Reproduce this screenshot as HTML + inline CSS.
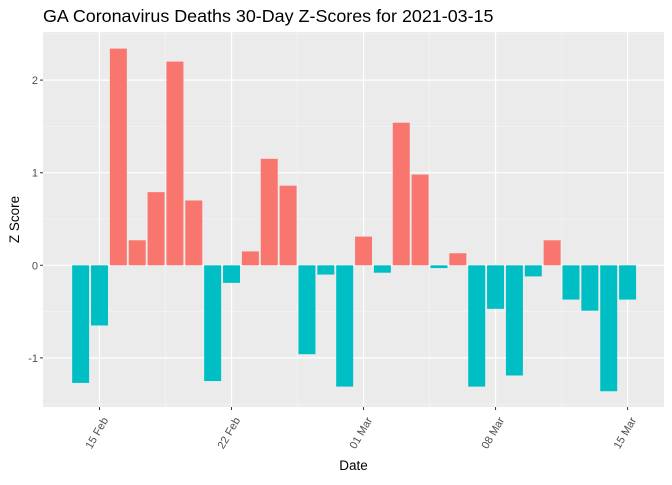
<!DOCTYPE html>
<html><head><meta charset="utf-8"><style>
body{margin:0;background:#fff;}
svg text{font-family:"Liberation Sans",Arial,sans-serif;}
</style></head><body>
<svg id="chart" width="672" height="480" xmlns="http://www.w3.org/2000/svg">
<text x="43" y="22" font-size="17.9" fill="#000">GA Coronavirus Deaths 30-Day Z-Scores for 2021-03-15</text>
<rect x="43" y="32" width="621" height="375" fill="#ebebeb"/>
<g id="grid"></g>
<g id="bars"></g>
<g id="axes"></g>
<text x="353.5" y="470" font-size="13.5" text-anchor="middle" fill="#000">Date</text>
<text transform="translate(19,219.5) rotate(-90)" font-size="13.5" text-anchor="middle" fill="#000">Z Score</text>
</svg>
<script>
const dates = ["02-14","02-15","02-16","02-17","02-18","02-19","02-20","02-21","02-22","02-23","02-24","02-25","02-26","02-27","02-28","03-01","03-02","03-03","03-04","03-05","03-06","03-07","03-08","03-09","03-10","03-11","03-12","03-13","03-14","03-15"];
const zScores = [-1.27,-0.65,2.34,0.27,0.79,2.20,0.70,-1.25,-0.19,0.15,1.15,0.86,-0.96,-0.10,-1.31,0.31,-0.08,1.54,0.98,-0.03,0.13,-1.31,-0.47,-1.19,-0.12,0.27,-0.37,-0.49,-1.36,-0.37];
const yTicks = [-1,0,1,2];
const xTickLabels = ["15 Feb","22 Feb","01 Mar","08 Mar","15 Mar"];
const xTickIdx = [1,8,15,22,29];

const NS="http://www.w3.org/2000/svg";
const dayW=18.86, x0=99.5-dayW;
const xs=i=>x0+i*dayW;
const yZero=265.3, yUnit=92.6;
const ys=v=>yZero-v*yUnit;
const L=43,R=664,T=32,B=407;
function mk(tag,parent){const e=document.createElementNS(NS,tag);document.getElementById(parent).appendChild(e);return e;}
for(let v=-1.5;v<=2.5;v+=1){const y=ys(v);if(y<T||y>B)continue;const l=mk('line','grid');


l.setAttribute('x1',L);l.setAttribute('x2',R);l.setAttribute('y1',y);l.setAttribute('y2',y);l.setAttribute('stroke','#f5f5f5');l.setAttribute('stroke-width','0.6');}
for(let k=-1;k<xTickIdx.length;k++){const x=xs(xTickIdx[0]+k*7+3.5);if(x<L||x>R)continue;const l=mk('line','grid');


l.setAttribute('x1',x);l.setAttribute('x2',x);l.setAttribute('y1',T);l.setAttribute('y2',B);l.setAttribute('stroke','#f5f5f5');l.setAttribute('stroke-width','0.6');}
yTicks.forEach(v=>{const y=ys(v);const l=mk('line','grid');


l.setAttribute('x1',L);l.setAttribute('x2',R);l.setAttribute('y1',y);l.setAttribute('y2',y);l.setAttribute('stroke','#fff');l.setAttribute('stroke-width','1.2');
const t=mk('line','axes');


t.setAttribute('x1',L-3);t.setAttribute('x2',L);t.setAttribute('y1',y);t.setAttribute('y2',y);t.setAttribute('stroke','#333');
const tx=mk('text','axes');


tx.setAttribute('x',L-5);tx.setAttribute('y',y+4);tx.setAttribute('text-anchor','end');tx.setAttribute('font-size','11');tx.setAttribute('fill','#4d4d4d');tx.textContent=v;});
xTickIdx.forEach((idx,k)=>{const x=xs(idx);const l=mk('line','grid');


l.setAttribute('x1',x);l.setAttribute('x2',x);l.setAttribute('y1',T);l.setAttribute('y2',B);l.setAttribute('stroke','#fff');l.setAttribute('stroke-width','1.2');
const t=mk('line','axes');


t.setAttribute('x1',x);t.setAttribute('x2',x);t.setAttribute('y1',B);t.setAttribute('y2',B+3);t.setAttribute('stroke','#333');
const tx=mk('text','axes');


tx.setAttribute('transform','translate('+(x+9)+','+(B+13)+') rotate(-60)');tx.setAttribute('text-anchor','end');tx.setAttribute('font-size','11');tx.setAttribute('fill','#4d4d4d');tx.textContent=xTickLabels[k];});
const bw=dayW*0.9;
zScores.forEach((v,i)=>{const r=mk('rect','bars');


const y1=ys(Math.max(v,0)),y2=ys(Math.min(v,0));
r.setAttribute('x',xs(i)-bw/2);r.setAttribute('width',bw);r.setAttribute('y',y1);r.setAttribute('height',y2-y1);
r.setAttribute('fill',v>=0?'#f8766d':'#00bfc4');});
</script>
</body></html>
